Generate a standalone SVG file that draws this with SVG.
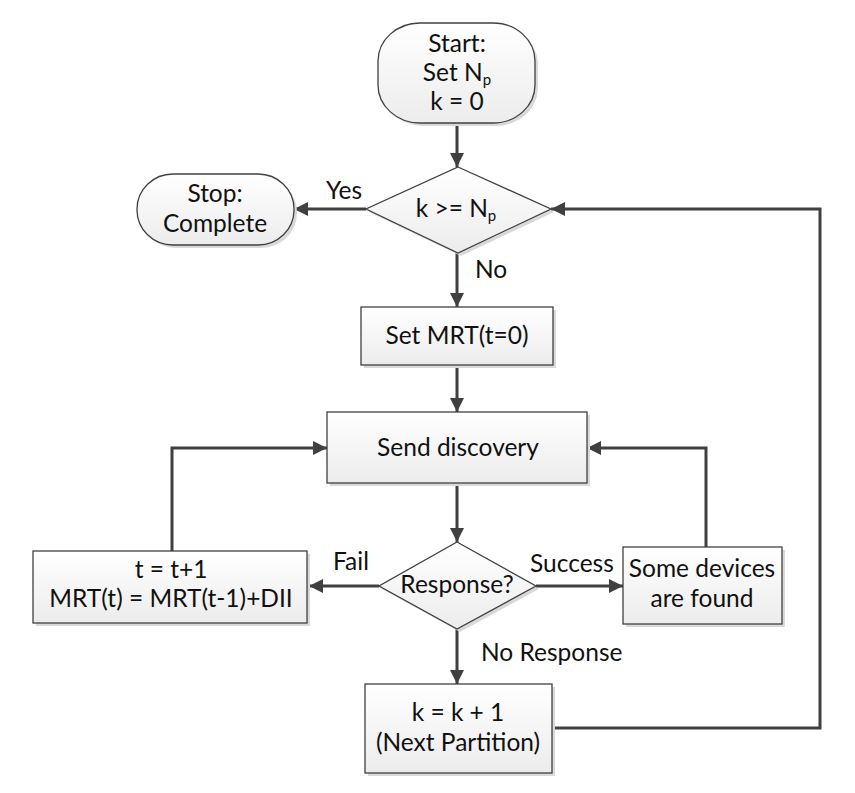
<svg xmlns="http://www.w3.org/2000/svg" width="855" height="793" viewBox="0 0 855 793">
<defs>
<linearGradient id="g" x1="0" y1="0" x2="0" y2="1">
<stop offset="0" stop-color="#ffffff"/>
<stop offset="1" stop-color="#ececec"/>
</linearGradient>
<marker id="ah" markerUnits="userSpaceOnUse" viewBox="0 0 14 14" markerWidth="14" markerHeight="14" refX="14" refY="7" orient="auto">
<path d="M0,0 L14,7 L0,14 z" fill="#404040"/>
</marker>
</defs>
<style>
.sh{fill:#d9d9d9;stroke:none}
.bx{fill:url(#g);stroke:#404040;stroke-width:1.3}
.t{font-family:Lato,"Noto Sans",sans-serif;font-size:24.5px;fill:#111;text-anchor:middle}
.lb{font-family:Lato,"Noto Sans",sans-serif;font-size:24.5px;fill:#111}
.sub{font-size:15px}
.c{fill:none;stroke:#404040;stroke-width:3;marker-end:url(#ah)}
</style>
<rect width="855" height="793" fill="#fff"/>
<g id="connectors">
<path class="c" d="M457,123 V167"/>
<path class="c" d="M366,209 H294"/>
<path class="c" d="M457,253 V307"/>
<path class="c" d="M457,365 V412"/>
<path class="c" d="M457,483 V542"/>
<path class="c" d="M379,586 H309"/>
<path class="c" d="M536,586 H623"/>
<path class="c" d="M457,629 V684"/>
<path class="c" d="M172,551 V448 H327"/>
<path class="c" d="M706,547 V448 H587"/>
<path class="c" d="M552,728 H820 V209 H551"/>
</g>
<g id="start">
<rect class="sh" x="381" y="26" width="157" height="100" rx="42" ry="38"/>
<rect class="bx" x="378" y="23" width="157" height="100" rx="42" ry="38"/>
<text class="t" x="457" y="52">Start:</text>
<text class="t" x="457" y="81">Set N<tspan class="sub" dy="4">p</tspan></text>
<text class="t" x="457" y="110">k = 0</text>
</g>
<g id="decision1">
<polygon class="sh" points="461,170 554,212 461,256 369,212"/>
<polygon class="bx" points="458,167 551,209 458,253 366,209"/>
<text class="t" x="456" y="217">k &gt;= N<tspan class="sub" dy="4">p</tspan></text>
</g>
<g id="stop">
<rect class="sh" x="140" y="177" width="157" height="71" rx="36" ry="35"/>
<rect class="bx" x="137" y="174" width="157" height="71" rx="36" ry="35"/>
<text class="t" x="215" y="202">Stop:</text>
<text class="t" x="215" y="232">Complete</text>
</g>
<g id="setmrt">
<rect class="sh" x="364" y="310" width="192" height="58"/>
<rect class="bx" x="361" y="307" width="192" height="58"/>
<text class="t" x="457" y="344">Set MRT(t=0)</text>
</g>
<g id="send">
<rect class="sh" x="330" y="415" width="260" height="71"/>
<rect class="bx" x="327" y="412" width="260" height="71"/>
<text class="t" x="458" y="456">Send discovery</text>
</g>
<g id="response">
<polygon class="sh" points="460,545 539,589 460,632 382,589"/>
<polygon class="bx" points="457,542 536,586 457,629 379,586"/>
<text class="t" x="457" y="593">Response?</text>
</g>
<g id="tbox">
<rect class="sh" x="36" y="554" width="274" height="72"/>
<rect class="bx" x="33" y="551" width="274" height="72"/>
<text class="t" x="171" y="578">t = t+1</text>
<text class="t" x="171" y="607">MRT(t) = MRT(t-1)+DII</text>
</g>
<g id="devices">
<rect class="sh" x="626" y="550" width="159" height="77"/>
<rect class="bx" x="623" y="547" width="159" height="77"/>
<text class="t" x="702" y="577">Some devices</text>
<text class="t" x="702" y="607">are found</text>
</g>
<g id="kbox">
<rect class="sh" x="368" y="687" width="187" height="89"/>
<rect class="bx" x="365" y="684" width="187" height="89"/>
<text class="t" x="458" y="721">k = k + 1</text>
<text class="t" x="458" y="751">(Next Partition)</text>
</g>
<g id="labels">
<text class="lb" x="326" y="199">Yes</text>
<text class="lb" x="475" y="278">No</text>
<text class="lb" x="333" y="570">Fail</text>
<text class="lb" x="530" y="572">Success</text>
<text class="lb" x="481" y="661">No Response</text>
</g>
</svg>
